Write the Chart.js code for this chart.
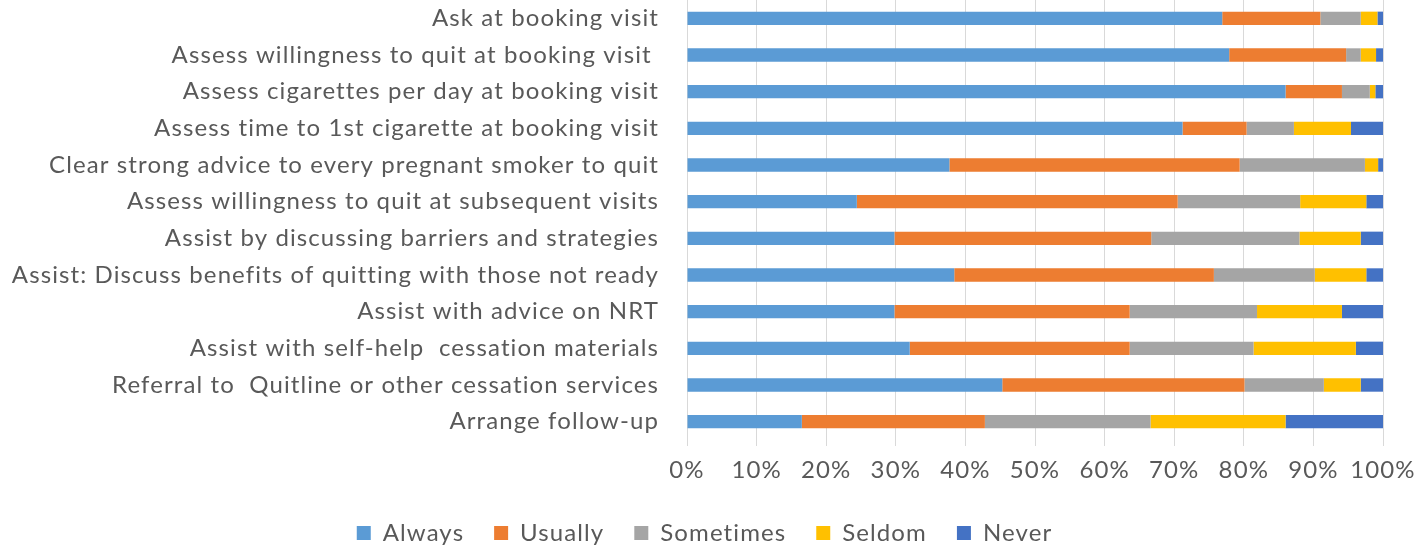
<!DOCTYPE html>
<html>
<head>
<meta charset="utf-8">
<script src="https://cdn.jsdelivr.net/npm/chart.js@4/dist/chart.umd.min.js"></script>
<style>
  html, body { margin: 0; padding: 0; background: #fff; }
  #wrap { width: 1418px; height: 551px; position: relative; }
</style>
</head>
<body>
<div id="wrap"><canvas id="c" width="1418" height="551"></canvas></div>
<script>
const categories = [
  "Ask at booking visit",
  "Assess willingness to quit at booking visit ",
  "Assess cigarettes per day at booking visit",
  "Assess time to 1st cigarette at booking visit",
  "Clear strong advice to every pregnant smoker to quit",
  "Assess willingness to quit at subsequent visits",
  "Assist by discussing barriers and strategies",
  "Assist: Discuss benefits of quitting with those not ready",
  "Assist with advice on NRT",
  "Assist with self-help  cessation materials",
  "Referral to  Quitline or other cessation services",
  "Arrange follow-up"
];
const always    = [76.9, 77.9, 86.0, 71.2, 37.7, 24.4, 29.8, 38.4, 29.8, 32.0, 45.3, 16.5];
const usually   = [14.1, 16.8,  8.1,  9.2, 41.7, 46.1, 36.9, 37.3, 33.8, 31.6, 34.8, 26.3];
const sometimes = [ 5.8,  2.1,  4.0,  6.8, 18.0, 17.6, 21.3, 14.5, 18.3, 17.8, 11.4, 23.8];
const seldom    = [ 2.4,  2.2,  0.8,  8.2,  1.9,  9.5,  8.8,  7.4, 12.2, 14.7,  5.3, 19.4];
const never     = [ 0.8,  1.0,  1.1,  4.6,  0.7,  2.4,  3.2,  2.4,  5.9,  3.9,  3.2, 14.0];
const xTickStep = 10;

const FONT = "Lato";
const seriesDefs = [
  ["Always", always, "#5B9BD5"],
  ["Usually", usually, "#ED7D31"],
  ["Sometimes", sometimes, "#A5A5A5"],
  ["Seldom", seldom, "#FFC000"],
  ["Never", never, "#4472C4"]
];

const spacing = {
  id: "spacing",
  beforeUpdate(chart) { chart.ctx.letterSpacing = "1.1px"; },
  afterLayout(chart) {
    const lg = chart.legend;
    if (lg) { lg.left += 13; lg.right += 13; }
  },
  beforeDraw(chart) { chart.ctx.letterSpacing = "1.1px"; }
};

new Chart(document.getElementById("c"), {
  type: "bar",
  data: {
    labels: categories,
    datasets: seriesDefs.map(([label, data, color]) => ({
      label, data, backgroundColor: color, borderWidth: 0,
      barPercentage: 0.73, categoryPercentage: 0.5
    }))
  },
  options: {
    indexAxis: "y",
    responsive: false,
    animation: false,
    layout: { padding: { top: 0, right: 35, bottom: -4, left: 0 } },
    scales: {
      x: {
        stacked: true, min: 0, max: 100,
        afterFit: (s) => { s.height = 51; s.paddingLeft = 0; s.paddingRight = 0; },
        grid: { color: "#d9d9d9", lineWidth: 1, drawTicks: true, tickLength: 6 },
        border: { display: false },
        ticks: { color: "#595959", stepSize: xTickStep, padding: 10, maxRotation: 0, minRotation: 0,
                 font: { family: FONT, size: 24 }, callback: (v) => v + "%" }
      },
      y: {
        stacked: true,
        afterFit: (s) => { s.width = 687; s.paddingTop = 0; s.paddingBottom = 0; },
        grid: { display: false, drawTicks: false },
        border: { display: false },
        ticks: { color: "#595959", padding: 28, font: { family: FONT, size: 24 }, autoSkip: false }
      }
    },
    plugins: {
      legend: {
        position: "bottom",
        labels: { color: "#595959", font: { family: FONT, size: 24 }, boxWidth: 14, boxHeight: 14, padding: 30 }
      },
      tooltip: { enabled: false }
    }
  },
  plugins: [spacing]
});
</script>
</body>
</html>
